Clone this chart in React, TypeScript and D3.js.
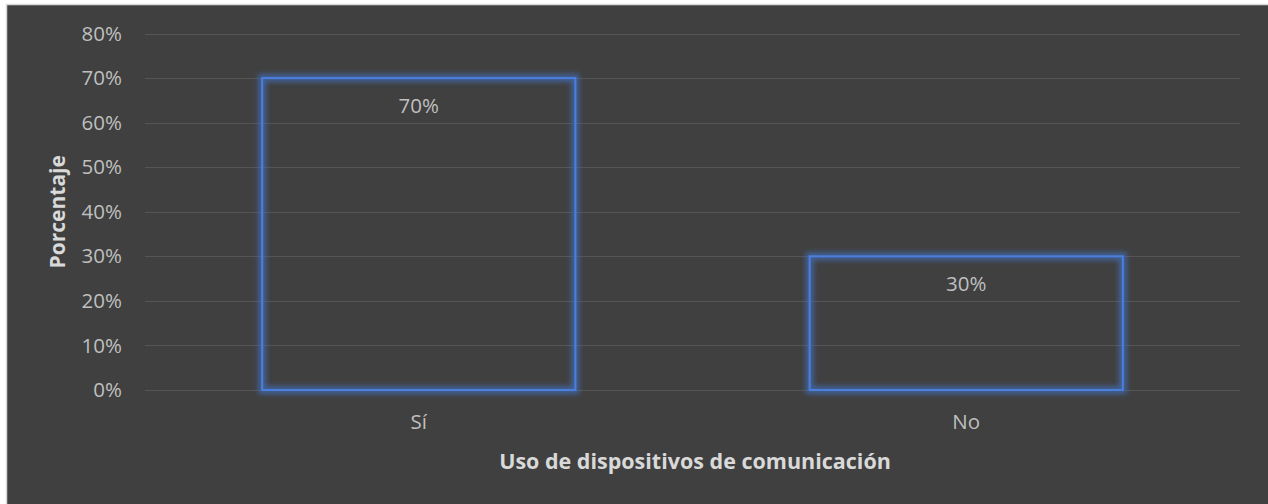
import { useRef, useEffect } from 'react';
import * as d3 from 'd3';

const categories = ['Sí', 'No'];
const values = [0.7, 0.3];
const yTicks = [0, 0.1, 0.2, 0.3, 0.4, 0.5, 0.6, 0.7, 0.8];
const xTitle = 'Uso de dispositivos de comunicación';
const yTitle = 'Porcentaje';

export default function App() {
  const ref = useRef<SVGSVGElement>(null);

  useEffect(() => {
    if (!ref.current) return;
    const width = 1268;
    const height = 504;
    const plot = { left: 145, right: 1240, top: 33.5, bottom: 390 };
    const font = '"Open Sans", "Noto Sans", sans-serif';
    const tickSize = 20.5;

    const svg = d3.select(ref.current);
    svg.selectAll('*').remove();
    svg.attr('width', width).attr('height', height);

    const defs = svg.append('defs');
    const glow = defs
      .append('filter')
      .attr('id', 'glow')
      .attr('x', '-10%')
      .attr('y', '-10%')
      .attr('width', '120%')
      .attr('height', '120%');
    glow.append('feGaussianBlur').attr('stdDeviation', 2.5);

    // chart area
    svg
      .append('rect')
      .attr('x', 6.5)
      .attr('y', 4.5)
      .attr('width', width)
      .attr('height', height)
      .attr('fill', '#404040')
      .attr('stroke', '#d9d9d9')
      .attr('stroke-width', 1.5);

    const x = d3
      .scaleBand()
      .domain(categories)
      .range([plot.left, plot.right])
      .paddingInner(0.428)
      .paddingOuter(0.214);

    const y = d3.scaleLinear().domain([0, 0.8]).range([plot.bottom, plot.top]);

    // gridlines
    svg
      .append('g')
      .selectAll('line')
      .data(yTicks)
      .join('line')
      .attr('x1', plot.left)
      .attr('x2', plot.right)
      .attr('y1', (d) => Math.round(y(d)) + 0.5)
      .attr('y2', (d) => Math.round(y(d)) + 0.5)
      .attr('stroke', '#555555')
      .attr('stroke-width', 1.2);

    // y tick labels
    svg
      .append('g')
      .selectAll('text')
      .data(yTicks)
      .join('text')
      .attr('x', 122)
      .attr('y', (d) => y(d))
      .attr('dy', '0.35em')
      .attr('text-anchor', 'end')
      .attr('fill', '#bfbfbf')
      .attr('font-family', font)
      .attr('font-size', tickSize)
      .text((d) => d3.format('.0%')(d));

    const data = categories.map((c, i) => ({ c, v: values[i] }));

    // glow under bar outlines
    svg
      .append('g')
      .selectAll('rect')
      .data(data)
      .join('rect')
      .attr('x', (d) => x(d.c) || 0)
      .attr('y', (d) => y(d.v))
      .attr('width', x.bandwidth())
      .attr('height', (d) => plot.bottom - y(d.v))
      .attr('fill', 'none')
      .attr('stroke', '#4472c4')
      .attr('stroke-opacity', 0.65)
      .attr('stroke-width', 8)
      .attr('filter', 'url(#glow)');

    svg
      .append('g')
      .selectAll('rect')
      .data(data)
      .join('rect')
      .attr('x', (d) => x(d.c) || 0)
      .attr('y', (d) => y(d.v))
      .attr('width', x.bandwidth())
      .attr('height', (d) => plot.bottom - y(d.v))
      .attr('fill', 'none')
      .attr('stroke', '#4a7fe0')
      .attr('stroke-width', 2);

    // data labels
    svg
      .append('g')
      .selectAll('text')
      .data(data)
      .join('text')
      .attr('x', (d) => (x(d.c) || 0) + x.bandwidth() / 2)
      .attr('y', (d) => y(d.v) + 28)
      .attr('dy', '0.35em')
      .attr('text-anchor', 'middle')
      .attr('fill', '#bfbfbf')
      .attr('font-family', font)
      .attr('font-size', tickSize)
      .text((d) => d3.format('.0%')(d.v));

    // x tick labels
    svg
      .append('g')
      .selectAll('text')
      .data(categories)
      .join('text')
      .attr('x', (d) => (x(d) || 0) + x.bandwidth() / 2)
      .attr('y', 422)
      .attr('dy', '0.35em')
      .attr('text-anchor', 'middle')
      .attr('fill', '#bfbfbf')
      .attr('font-family', font)
      .attr('font-size', tickSize)
      .text((d) => d);

    svg
      .append('text')
      .attr('x', 695)
      .attr('y', 461)
      .attr('dy', '0.35em')
      .attr('text-anchor', 'middle')
      .attr('fill', '#d9d9d9')
      .attr('font-family', font)
      .attr('font-weight', 'bold')
      .attr('font-size', 21.5)
      .text(xTitle);

    svg
      .append('text')
      .attr('transform', `translate(58,${(plot.top + plot.bottom) / 2}) rotate(-90)`)
      .attr('dy', '0.35em')
      .attr('text-anchor', 'middle')
      .attr('fill', '#d9d9d9')
      .attr('font-family', font)
      .attr('font-weight', 'bold')
      .attr('font-size', 21)
      .text(yTitle);
  }, []);

  return (
    <svg
      ref={ref}
      style={{ position: 'absolute', left: 0, top: 0, background: '#ffffff' }}
    ></svg>
  );
}
